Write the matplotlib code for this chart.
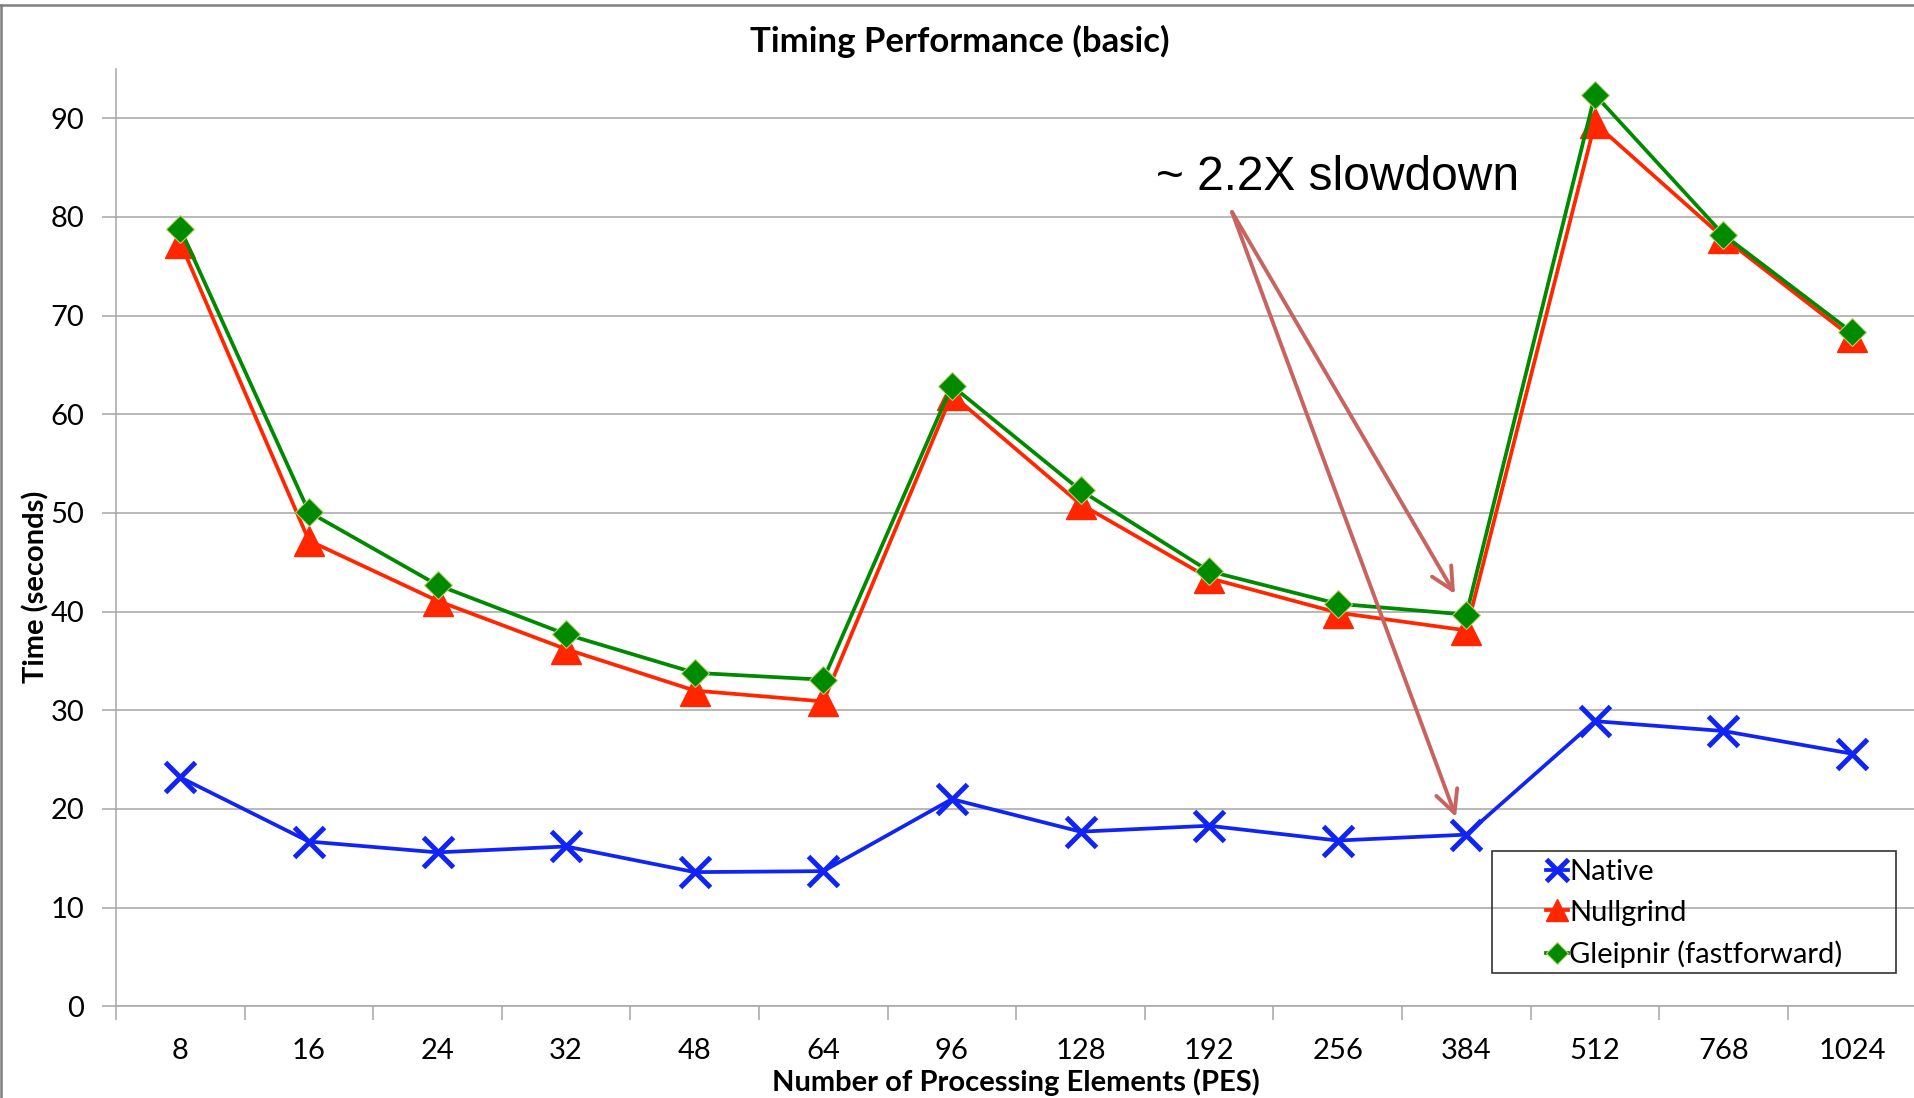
import matplotlib
matplotlib.use("Agg")
import matplotlib.pyplot as plt
from matplotlib.lines import Line2D
from matplotlib.patches import Rectangle

# timing results per PE count
pes = ['8', '16', '24', '32', '48', '64', '96', '128', '192', '256', '384', '512', '768', '1024']
native = [23.2, 16.7, 15.6, 16.2, 13.6, 13.7, 21.0, 17.7, 18.3, 16.8, 17.4, 28.9, 27.9, 25.6]
nullgrind = [77.4, 47.2, 41.1, 36.2, 32.0, 30.9, 62.0, 50.9, 43.4, 39.9, 38.1, 89.5, 77.9, 67.8]
gleipnir = [78.8, 50.1, 42.7, 37.7, 33.8, 33.1, 62.9, 52.3, 44.1, 40.8, 39.7, 92.4, 78.2, 68.3]

W, H = 1915, 1098
plt.rcParams['font.family'] = ['Lato', 'DejaVu Sans']

fig = plt.figure(figsize=(W / 100, H / 100), dpi=100)
ax = fig.add_axes([116 / W, 1 - 1006.3 / H, 1800.4 / W, 937.3 / H])

x = list(range(len(pes)))
grid_col = '#A6A6A6'

ax.plot(x, native, color='#1024F5', lw=2.7, marker='x', ms=22, mew=3.6,
        label='Native', zorder=3)
ax.plot(x, nullgrind, color='#FF2600', lw=2.7, marker='^', ms=21, mec='#FF2600',
        label='Nullgrind', zorder=4)
ax.plot(x, gleipnir, color='#008A00', lw=2.7, marker='D', ms=14.5, mec='#B8D070',
        mew=0.8, label='Gleipnir (fastforward)', zorder=5)

ax.set_xlim(-0.5, len(pes) - 0.5)
ax.set_ylim(0, 95)
ax.set_yticks(range(0, 91, 10))
ax.set_xticks(x)
ax.set_xticklabels(pes)
ax.set_xticks([i - 0.5 for i in range(len(pes) + 1)], minor=True)
ax.tick_params(axis='x', which='major', length=0, pad=23, labelsize=21)
ax.tick_params(axis='x', which='minor', length=10, width=1.1, color=grid_col)
ax.tick_params(axis='y', length=10, width=1.1, color=grid_col, pad=13, labelsize=21)

ax.grid(axis='y', color=grid_col, lw=1.1)
ax.set_axisbelow(True)
for side in ['top', 'right']:
    ax.spines[side].set_visible(False)
for side in ['left', 'bottom']:
    ax.spines[side].set_color(grid_col)
    ax.spines[side].set_linewidth(1.1)

fig.text(959.5 / W, 1 - 41 / H, 'Timing Performance (basic)', ha='center', va='center',
         fontsize=25, fontweight='bold')
fig.text(1015.5 / W, 1 - 1082 / H, 'Number of Processing Elements (PES)', ha='center',
         va='center', fontsize=21, fontweight='bold')
fig.text(36 / W, 1 - 587 / H, 'Time (seconds)', ha='center', va='center', rotation=90,
         fontsize=21, fontweight='bold')

# slowdown callout
fig.text(1156 / W, 1 - 190 / H, '~ 2.2X slowdown', ha='left', va='baseline',
         fontsize=34.5, family='Liberation Sans')
start = (1232 / W, 1 - 212 / H)
for tip in [(1455 / W, 1 - 594 / H), (1456 / W, 1 - 817 / H)]:
    ax.annotate('', xy=tip, xycoords='figure fraction', xytext=start,
                textcoords='figure fraction',
                arrowprops=dict(arrowstyle='->', color='#C8645F', lw=2.8,
                                mutation_scale=40, shrinkA=0, shrinkB=0),
                zorder=6)

# legend with its own box
fig.patches.append(Rectangle((1492 / W, 1 - 973 / H), 404 / W, 122 / H,
                             transform=fig.transFigure, fill=False,
                             edgecolor='#333333', lw=1.2))
ax.legend(loc='upper left', bbox_to_anchor=(1546 / W, 1 - 859 / H),
          bbox_transform=fig.transFigure, frameon=False, fontsize=21,
          markerscale=0.75, handlelength=0.75, handletextpad=0.05,
          borderpad=0, borderaxespad=0, labelspacing=0.5)

# chart frame on the top and left edge
fig.add_artist(Line2D([0, 1], [1 - 5 / H, 1 - 5 / H], transform=fig.transFigure,
                      color='#7F7F7F', lw=1.8))
fig.add_artist(Line2D([1 / W, 1 / W], [0, 1 - 5 / H], transform=fig.transFigure,
                      color='#7F7F7F', lw=1.8))

fig.savefig('out.png', dpi=100)
